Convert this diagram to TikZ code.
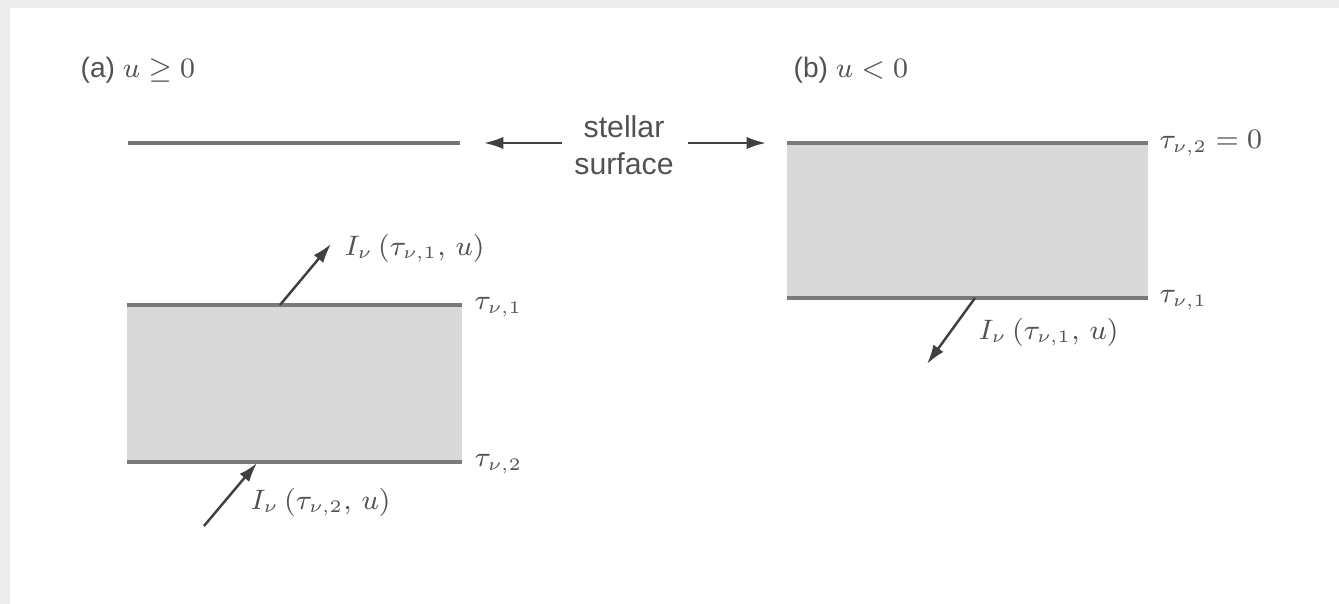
\documentclass[tikz,border=0pt]{standalone}
\usepackage{fontspec}
\setmainfont{Liberation Sans}
\usepackage{amsmath}
\usetikzlibrary{arrows.meta}
\begin{document}
\begin{tikzpicture}[x=0.01cm,y=-0.01cm,
  txt/.style={text=black!68, inner sep=0pt, font=\fontsize{8.6}{10.4}\selectfont},
  ttl/.style={text=black!68, inner sep=0pt, font=\fontsize{8}{10}\selectfont},
  mtxt/.style={text=black!68, inner sep=0pt, font=\fontsize{7.7}{9.5}\selectfont},
  surf/.style={draw=black!52, line width=1.2pt},
  slab/.style={fill=black!15, draw=none},
  ray/.style={draw=black!75, line width=0.7pt, -{Latex[length=5.5pt,width=3.5pt]}},
]
\useasboundingbox (0,0) rectangle (1339,604);
\fill[black!7] (0,0) rectangle (1339,8);
\fill[black!7] (0,0) rectangle (10,604);
% titles
\node[ttl, anchor=west] (ta) at (80,70) {(a) $u \geq 0$};
\node[ttl, anchor=west] (tb) at (793,70) {(b) $u < 0$};
% stellar surface
\node[txt, align=center] (ss) at (624,145) {stellar\\surface};
\coordinate (la) at (562,143);
\coordinate (lb) at (484,143);
\coordinate (ra) at (688,143);
\coordinate (rb) at (766,143);
\draw[ray] (la) -- (lb);
\draw[ray] (ra) -- (rb);
% left panel
\coordinate (aL) at (128,143);
\coordinate (aR) at (460,143);
\draw[draw=black!55, line width=0.9pt] (aL) -- (aR);
\fill[slab] (127,305) rectangle (462,462);
\coordinate (a1L) at (127,305);
\coordinate (a1R) at (462,305);
\coordinate (a2L) at (127,462);
\coordinate (a2R) at (462,462);
\draw[surf] (a1L) -- (a1R);
\draw[surf] (a2L) -- (a2R);
\node[mtxt, anchor=west] (at1) at (474,307) {$\tau_{\nu,1}$};
\node[mtxt, anchor=west] (at2) at (474,464) {$\tau_{\nu,2}$};
\coordinate (ua0) at (280,305);
\coordinate (ua1) at (331,244);
\draw[ray] (ua0) -- (ua1);
\node[mtxt, anchor=west] (la1) at (344,248) {$I_\nu\,(\tau_{\nu,1},\,u)$};
\coordinate (da0) at (204,526);
\coordinate (da1) at (257,463);
\draw[ray] (da0) -- (da1);
\node[mtxt, anchor=west] (la2) at (250,502) {$I_\nu\,(\tau_{\nu,2},\,u)$};
% right panel
\fill[slab] (787,143) rectangle (1148,298);
\coordinate (b1L) at (787,143);
\coordinate (b1R) at (1148,143);
\coordinate (b2L) at (787,298);
\coordinate (b2R) at (1148,298);
\draw[surf] (b1L) -- (b1R);
\draw[surf] (b2L) -- (b2R);
\node[mtxt, anchor=west] (bt2) at (1159,143) {$\tau_{\nu,2} = 0$};
\node[mtxt, anchor=west] (bt1) at (1159,300) {$\tau_{\nu,1}$};
\coordinate (ub0) at (975,298);
\coordinate (ub1) at (927,364);
\draw[ray] (ub0) -- (ub1);
\node[mtxt, anchor=west] (lb1) at (978,332) {$I_\nu\,(\tau_{\nu,1},\,u)$};
\end{tikzpicture}
\end{document}
